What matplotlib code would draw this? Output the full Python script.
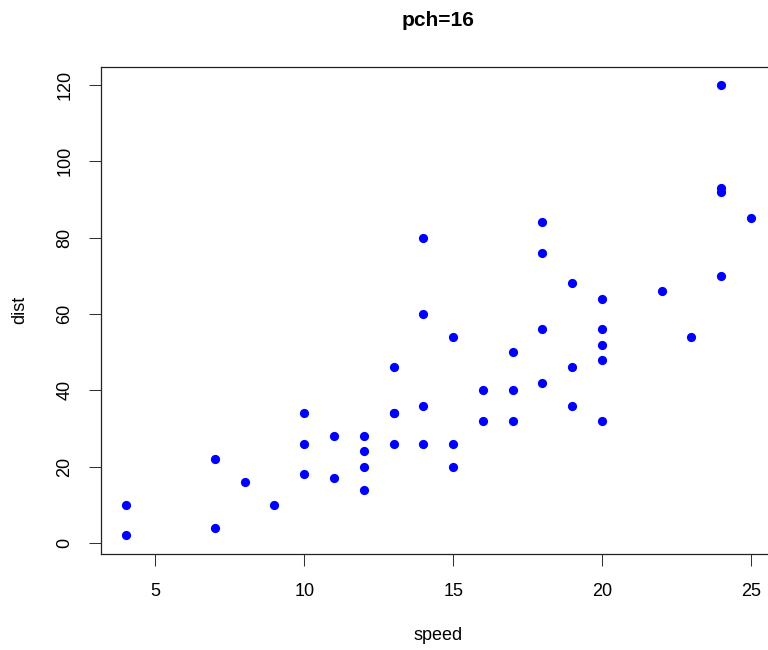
import matplotlib
matplotlib.use("Agg")
import matplotlib.pyplot as plt

# R cars dataset
speed = [4, 4, 7, 7, 8, 9, 10, 10, 10, 11, 11, 12, 12, 12, 12, 13, 13, 13, 13,
         14, 14, 14, 14, 15, 15, 15, 16, 16, 17, 17, 17, 18, 18, 18, 18, 19, 19,
         19, 20, 20, 20, 20, 20, 22, 23, 24, 24, 24, 24, 25]
dist = [2, 10, 4, 22, 16, 10, 18, 26, 34, 17, 28, 14, 20, 24, 28, 26, 34, 34, 46,
        26, 36, 60, 80, 20, 26, 54, 32, 40, 32, 40, 50, 42, 56, 76, 84, 36, 46,
        68, 32, 48, 52, 56, 64, 66, 54, 70, 92, 93, 120, 85]
xticks = [5, 10, 15, 20, 25]
yticks = [0, 20, 40, 60, 80, 100, 120]

plt.rcParams['font.family'] = ['Liberation Sans', 'DejaVu Sans']

W, H = 768, 650
fig = plt.figure(figsize=(W / 100, H / 100), dpi=100)
left, right, top, bottom = 100.5, 776, 66.8, 553.5
ax = fig.add_axes([left / W, 1 - bottom / H, (right - left) / W, (bottom - top) / H])

ax.scatter(speed, dist, s=44, color='blue', linewidths=0, zorder=3)

# R style 4% padding
xr = max(speed) - min(speed)
yr = max(dist) - min(dist)
ax.set_xlim(min(speed) - 0.04 * xr, max(speed) + 0.04 * xr)
ax.set_ylim(min(dist) - 0.04 * yr, max(dist) + 0.04 * yr)

ax.set_xticks(xticks)
ax.set_yticks(yticks)
ax.set_yticklabels([str(v) for v in yticks], rotation=90, va='center')
ax.tick_params(axis='both', length=8.6, width=0.75, color='#333333',
               labelsize=13, direction='out')
ax.tick_params(axis='x', pad=13)
ax.tick_params(axis='y', pad=11)
for sp in ax.spines.values():
    sp.set_linewidth(0.9)
    sp.set_color('#222222')

fig.text(438 / W, 1 - 20 / H, 'pch=16', ha='center', va='center',
         fontsize=15, fontweight='bold')
fig.text(438 / W, 1 - 636 / H, 'speed', ha='center', va='center', fontsize=13)
fig.text(20 / W, 1 - 310 / H, 'dist', ha='center', va='center', fontsize=13,
         rotation=90)

fig.savefig('out.png', dpi=100)
